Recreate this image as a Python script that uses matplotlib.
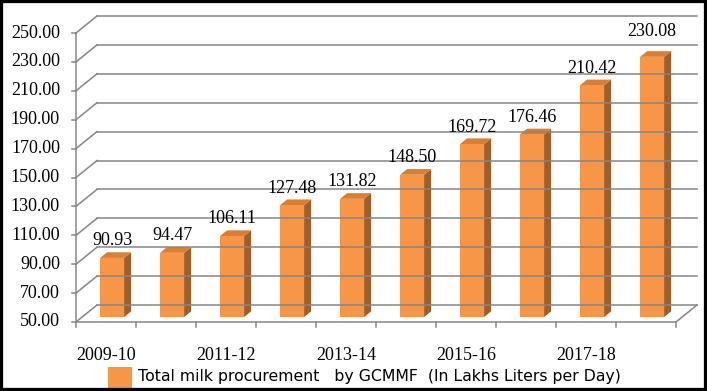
import matplotlib
matplotlib.use('Agg')
import matplotlib.pyplot as plt
from matplotlib.patches import Polygon, Rectangle

# data
years = ['2009-10', '2010-11', '2011-12', '2012-13', '2013-14',
         '2014-15', '2015-16', '2016-17', '2017-18', '2018-19']
milk = [90.93, 94.47, 106.11, 127.48, 131.82, 148.50, 169.72, 176.46, 210.42, 230.08]
yticks = [50, 70, 90, 110, 130, 150, 170, 190, 210, 230, 250]
legend_text = 'Total milk procurement   by GCMMF  (In Lakhs Liters per Day)'

W, H = 707, 391
grid_col = '#868686'
front_col = '#F79646'
top_col = '#D97E35'
side_col = '#A35E28'
serif = 'Liberation Serif'
fs = 13

fig = plt.figure(figsize=(W / 100, H / 100), dpi=100)
fig.patch.set_facecolor('white')

# front plane of the 3d box: x 76..676 px, y 322..33 px
ax = fig.add_axes([76 / W, (H - 322) / H, 600 / W, 289 / H])
ax.set_xlim(-0.5, len(years) - 0.5)
ax.set_ylim(yticks[0], yticks[-1])
ax.axis('off')

sx = len(years) / 600.0          # data units per pixel, x
sy = (yticks[-1] - yticks[0]) / 289.0  # data units per pixel, y
dx, dy = 21 * sx, 17 * sy         # depth of the box
x0, x1 = -0.5, len(years) - 0.5
ybase = yticks[0]

# back wall + left wall gridlines
for v in yticks:
    ax.plot([x0 + dx, x1 + dx], [v + dy, v + dy], color=grid_col, lw=1.1, clip_on=False)
    ax.plot([x0, x0 + dx], [v, v + dy], color=grid_col, lw=1.1, clip_on=False)
    # y ticks + labels
    ax.plot([x0 - 4 * sx, x0], [v, v], color=grid_col, lw=1.1, clip_on=False)
    ax.text(x0 - 16 * sx, v, f'{v:.2f}', ha='right', va='center',
            fontsize=fs, family=serif)

# y axis, floor front edge and right edge
ax.plot([x0, x0], [yticks[0], yticks[-1]], color=grid_col, lw=1.1, clip_on=False)
ax.plot([x0, x1], [ybase, ybase], color=grid_col, lw=1.1, clip_on=False)
ax.plot([x1, x1 + dx], [ybase, ybase + dy], color=grid_col, lw=1.1, clip_on=False)

# x ticks
for i in range(len(years) + 1):
    ax.plot([i - 0.5, i - 0.5], [ybase, ybase - 5 * sy], color=grid_col, lw=1.1, clip_on=False)
for i, lab in enumerate(years):
    if i % 2 == 0:
        ax.text(i, ybase - 33 * sy, lab, ha='center', va='center',
                fontsize=fs, family=serif)

# bars with fake 3d faces
f = 0.29      # where the bars sit in the depth
bw = 0.4
bdx, bdy = dx / 3, dy / 3
for i, v in enumerate(milk):
    bx0 = i - bw / 2 + f * dx
    bx1 = bx0 + bw
    by0 = ybase + f * dy
    by1 = v + f * dy
    ax.add_patch(Polygon([(bx1, by0), (bx1 + bdx, by0 + bdy), (bx1 + bdx, by1 + bdy), (bx1, by1)],
                         closed=True, fc=side_col, ec='none', clip_on=False))
    ax.add_patch(Polygon([(bx0, by1), (bx1, by1), (bx1 + bdx, by1 + bdy), (bx0 + bdx, by1 + bdy)],
                         closed=True, fc=top_col, ec='none', clip_on=False))
    ax.add_patch(Rectangle((bx0, by0), bw, v - ybase, fc=front_col, ec='none', clip_on=False))
    # the top label sits a bit higher in the original
    off = 25 if i == len(milk) - 1 else 17
    ax.text(i + f * dx, by1 + off * sy, f'{v:.2f}', ha='center', va='center',
            fontsize=fs, family=serif)

# legend
fig.add_artist(Rectangle((108 / W, (H - 388) / H), 24 / W, 21 / H,
                         transform=fig.transFigure, fc=front_col, ec='none'))
fig.text(138 / W, (H - 376) / H, legend_text, ha='left', va='center',
         fontsize=11.3, family='Liberation Sans Narrow')

# black frame
fig.add_artist(Rectangle((0, 0), 1, 1, transform=fig.transFigure, fill=False,
                         ec='black', lw=4.5))

fig.savefig('out.png', dpi=100)
